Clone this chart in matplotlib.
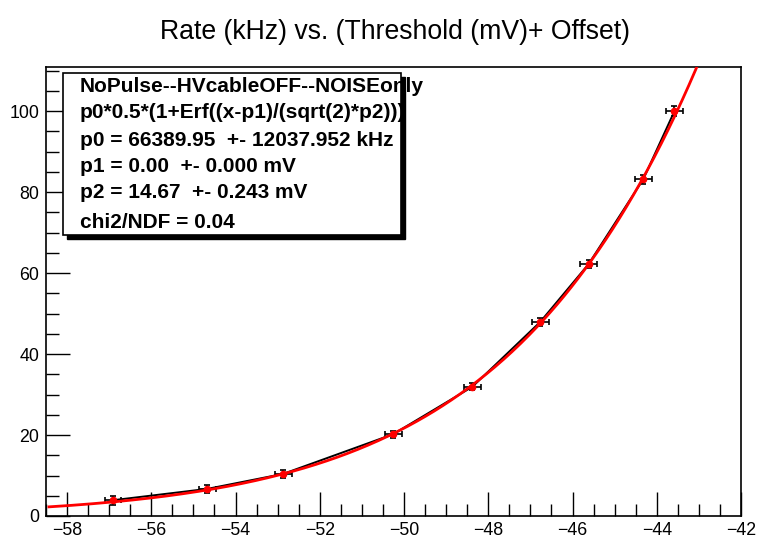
import math
import numpy as np
import matplotlib
matplotlib.use("Agg")
import matplotlib.pyplot as plt
from matplotlib.patches import Rectangle
from matplotlib.ticker import MultipleLocator

plt.rcParams['font.family'] = ['Liberation Sans', 'DejaVu Sans']

# measured points (threshold + offset in mV, rate in kHz)
thr = [-56.91, -54.67, -52.87, -50.26, -48.38, -46.77, -45.62, -44.32, -43.58]
rate = [3.9, 6.7, 10.4, 20.2, 31.9, 47.9, 62.2, 83.2, 100.0]
thr_err = [0.2, 0.2, 0.2, 0.2, 0.2, 0.2, 0.2, 0.2, 0.2]
rate_err = [1.1, 1.0, 0.9, 0.9, 0.9, 1.0, 1.0, 1.1, 1.2]

# fit parameters from the stats box
p0 = 66389.95
p1 = 0.00
p2 = 14.67
fit_from = -58.43
fit_to = -42.0

stats_lines = [
    "NoPulse--HVcableOFF--NOISEonly",
    "p0*0.5*(1+Erf((x-p1)/(sqrt(2)*p2)))",
    "p0 = 66389.95  +- 12037.952 kHz",
    "p1 = 0.00  +- 0.000 mV",
    "p2 = 14.67  +- 0.243 mV",
    "chi2/NDF = 0.04",
]


def erf_model(x):
    # p0*0.5*(1+erf(u)) written with erfc so the tail stays accurate
    return np.array([p0 * 0.5 * math.erfc(-(v - p1) / (math.sqrt(2) * p2)) for v in x])


fig = plt.figure(figsize=(7.64, 5.49), dpi=100)
ax = fig.add_axes([46 / 764, 1 - 516 / 549, (741 - 46) / 764, (516 - 67) / 549])

ax.plot(thr, rate, color="black", linewidth=1.4, zorder=2)
ax.errorbar(thr, rate, xerr=thr_err, yerr=rate_err, fmt="none", ecolor="black",
            elinewidth=1.2, capsize=2, capthick=1.2, zorder=3)
ax.plot(thr, rate, "o", color="red", markersize=4.5, zorder=4)

xs = np.linspace(fit_from, fit_to, 400)
ax.plot(xs, erf_model(xs), color="red", linewidth=2.0, zorder=5)

ax.set_xlim(-58.5, -42)
ax.set_ylim(0, 110.9)
ax.xaxis.set_major_locator(MultipleLocator(2))
ax.xaxis.set_minor_locator(MultipleLocator(0.5))
ax.yaxis.set_major_locator(MultipleLocator(20))
ax.yaxis.set_minor_locator(MultipleLocator(5))
ax.tick_params(which="both", direction="in", top=False, right=False, labelsize=12.8, width=1)
ax.tick_params(which="major", length=17)
ax.tick_params(which="minor", length=9)
ax.tick_params(axis="x", pad=4)
ax.tick_params(axis="y", pad=5)
for s in ax.spines.values():
    s.set_linewidth(1.2)

fig.text(395 / 764, 1 - 32 / 549, "Rate (kHz) vs. (Threshold (mV)+ Offset)",
         ha="center", va="center", fontsize=19.2)

# stats box with ROOT style shadow
bx0, by0, bx1, by1 = 63, 73, 401, 235
sh = 4
fig.patches.append(Rectangle(((bx0 + sh) / 764, 1 - (by1 + sh) / 549),
                             (bx1 - bx0) / 764, (by1 - by0) / 549,
                             transform=fig.transFigure, facecolor="black",
                             edgecolor="black", zorder=10))
fig.patches.append(Rectangle((bx0 / 764, 1 - by1 / 549),
                             (bx1 - bx0) / 764, (by1 - by0) / 549,
                             transform=fig.transFigure, facecolor="white",
                             edgecolor="black", linewidth=1.2, zorder=11))
line_y = [86, 113, 140, 166, 193, 223]
for txt, yy in zip(stats_lines, line_y):
    fig.text(80 / 764, 1 - yy / 549, txt, ha="left", va="center",
             fontsize=15, fontweight="bold", zorder=12)

fig.savefig("out.png", dpi=100)
